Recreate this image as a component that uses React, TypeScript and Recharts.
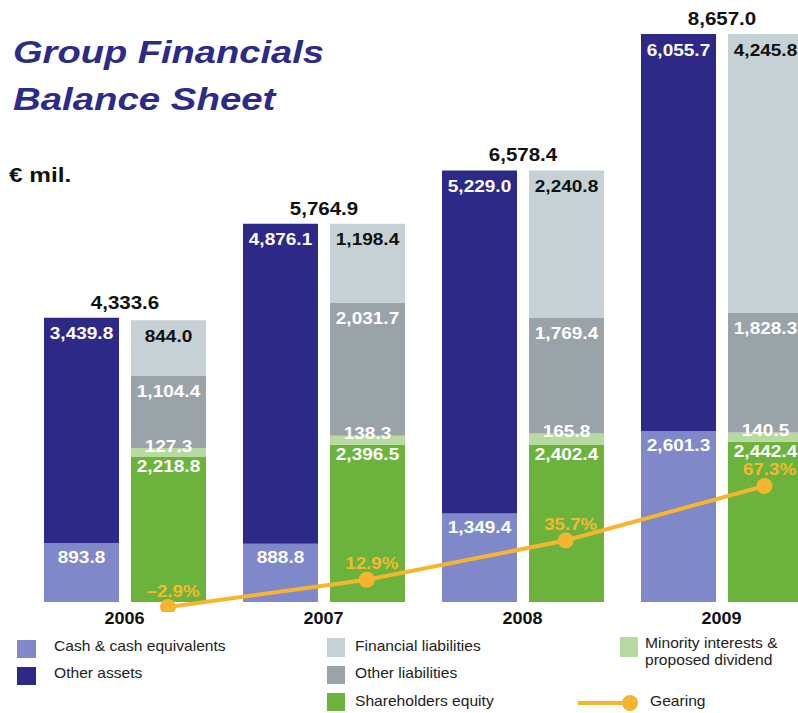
import { ComposedChart, Bar, Line, XAxis, YAxis, LabelList } from 'recharts';

// values in € mil.
const YEARS = ['2006', '2007', '2008', '2009'];
const CASH = [893.8, 888.8, 1349.4, 2601.3];
const OTHER_ASSETS = [3439.8, 4876.1, 5229.0, 6055.7];
const EQUITY = [2218.8, 2396.5, 2402.4, 2442.4];
const MINORITY = [127.3, 138.3, 165.8, 140.5];
const OTHER_LIAB = [1104.4, 2031.7, 1769.4, 1828.3];
const FIN_LIAB = [844.0, 1198.4, 2240.8, 4245.8];
const TOTALS = [4333.6, 5764.9, 6578.4, 8657.0];
const GEARING = [-2.9, 12.9, 35.7, 67.3];

const COLORS = {
  cash: '#7f88c9',
  otherAssets: '#2d2a87',
  finLiab: '#c6d1d6',
  otherLiab: '#9aa3a8',
  equity: '#6cb33e',
  minority: '#b8d9a0',
  gearing: '#f6b52e',
  title: '#2c2b88',
};

const FONT = '"Liberation Sans", Arial, sans-serif';

const data = YEARS.map((year, i) => ({
  year,
  cash: CASH[i],
  otherAssets: OTHER_ASSETS[i],
  equity: EQUITY[i],
  minority: MINORITY[i],
  otherLiab: OTHER_LIAB[i],
  finLiab: FIN_LIAB[i],
  total: TOTALS[i],
  gearing: GEARING[i],
}));

const fmt = (v: number) =>
  v.toLocaleString('en-US', { minimumFractionDigits: 1, maximumFractionDigits: 1 });

const fmtPct = (v: number) => (v < 0 ? '–' : '') + Math.abs(v).toFixed(1) + '%';

// the reference type is a little wider than the font, so text is stretched sideways
function SText({ x, y, children, size = 17, fill = '#fff', sx = 1.12, weight = 'bold', anchor = 'middle', italic = false, baseline = 'central' }: any) {
  return (
    <text
      transform={`translate(${x},${y}) scale(${sx},1)`}
      textAnchor={anchor}
      dominantBaseline={baseline}
      fontSize={size}
      fontWeight={weight}
      fontStyle={italic ? 'italic' : 'normal'}
      fill={fill}
      fontFamily={FONT}
    >
      {children}
    </text>
  );
}

// label inside a bar segment, a fixed distance below its top edge
const insideTop = (offset: number, fill = '#fff') => (p: any) => {
  if (p.value == null) return null;
  return (
    <SText x={p.x + p.width / 2} y={p.y + offset} fill={fill}>
      {fmt(Number(p.value))}
    </SText>
  );
};

const onTopEdge = (p: any) => (
  <SText x={p.x + p.width / 2} y={p.y - 2}>
    {fmt(Number(p.value))}
  </SText>
);

// total sits centred over the pair of bars
const totalLabel = (p: any) => (
  <SText x={p.x + p.width + 6} y={p.y - 15} fill="#111" size={18} sx={1.14}>
    {fmt(Number(p.value))}
  </SText>
);

const gearingLabel = (p: any) => (
  <SText x={p.x + 5} y={p.y - 16} fill="#f4b92e" size={16} sx={1.17}>
    {fmtPct(Number(p.value))}
  </SText>
);

function YearTick({ x, y, payload }: any) {
  return (
    <SText x={x} y={y + 12} fill="#111" size={17} sx={1.06} baseline="auto">
      {payload.value}
    </SText>
  );
}

function Overlay() {
  const item = (x: number, y: number, label: string) => (
    <SText x={x} y={y} fill="#222" size={15} sx={1.04} weight="normal" anchor="start" baseline="auto">
      {label}
    </SText>
  );
  return (
    <svg width={798} height={713} style={{ position: 'absolute', left: 0, top: 0, pointerEvents: 'none' }}>
      <SText x={13} y={63} size={32} sx={1.19} fill={COLORS.title} anchor="start" italic baseline="auto">
        Group Financials
      </SText>
      <SText x={13} y={109.5} size={32} sx={1.2} fill={COLORS.title} anchor="start" italic baseline="auto">
        Balance Sheet
      </SText>
      <SText x={9} y={182} size={21} sx={1.16} fill="#111" anchor="start" baseline="auto">
        € mil.
      </SText>

      <rect x={17} y={640} width={19} height={18} fill={COLORS.cash} />
      {item(54, 651, 'Cash & cash equivalents')}
      <rect x={17} y={667} width={19} height={18} fill={COLORS.otherAssets} />
      {item(54, 678, 'Other assets')}

      <rect x={327} y={638} width={18} height={19} fill={COLORS.finLiab} />
      {item(355, 651, 'Financial liabilities')}
      <rect x={327} y={666} width={18} height={18} fill={COLORS.otherLiab} />
      {item(355, 678, 'Other liabilities')}
      <rect x={327} y={693} width={18} height={18} fill={COLORS.equity} />
      {item(355, 706, 'Shareholders equity')}

      <rect x={620} y={637} width={18} height={20} fill={COLORS.minority} />
      {item(645, 648, 'Minority interests &')}
      {item(645, 665, 'proposed dividend')}
      <line x1={578} y1={703} x2={630} y2={703} stroke={COLORS.gearing} strokeWidth={4} />
      <circle cx={630} cy={703} r={8} fill={COLORS.gearing} />
      {item(650, 706, 'Gearing')}
    </svg>
  );
}

export default function App() {
  return (
    <div style={{ position: 'absolute', left: 0, top: 0, width: 798, height: 713, overflow: 'hidden', background: '#fff' }}>
      <ComposedChart
        width={830}
        height={713}
        data={data}
        margin={{ top: 20, right: 9, bottom: 0, left: 25 }}
        barSize={75}
        barGap={12}
      >
        <XAxis xAxisId="bars" dataKey="year" axisLine={false} tickLine={false} tickSize={0} tickMargin={0}
          height={101} interval={0} tick={<YearTick />} />
        <XAxis xAxisId="line" dataKey="year" hide scale="point" padding={{ left: 143, right: 56.5 }} />
        <YAxis yAxisId="val" type="number" hide domain={[-152.4, 8870.6]} allowDataOverflow />
        <YAxis yAxisId="gear" type="number" hide orientation="right" domain={[-5.8, 337.6]} allowDataOverflow />

        <Bar xAxisId="bars" yAxisId="val" stackId="assets" dataKey="cash" fill={COLORS.cash} isAnimationActive={false}>
          <LabelList dataKey="cash" content={insideTop(14)} />
        </Bar>
        <Bar xAxisId="bars" yAxisId="val" stackId="assets" dataKey="otherAssets" fill={COLORS.otherAssets} isAnimationActive={false}>
          <LabelList dataKey="otherAssets" content={insideTop(16)} />
          <LabelList dataKey="total" content={totalLabel} />
        </Bar>

        <Bar xAxisId="bars" yAxisId="val" stackId="liab" dataKey="equity" fill={COLORS.equity} isAnimationActive={false}>
          <LabelList dataKey="equity" content={insideTop(10)} />
        </Bar>
        <Bar xAxisId="bars" yAxisId="val" stackId="liab" dataKey="minority" fill={COLORS.minority} isAnimationActive={false}>
          <LabelList dataKey="minority" content={onTopEdge} />
        </Bar>
        <Bar xAxisId="bars" yAxisId="val" stackId="liab" dataKey="otherLiab" fill={COLORS.otherLiab} isAnimationActive={false}>
          <LabelList dataKey="otherLiab" content={insideTop(16)} />
        </Bar>
        <Bar xAxisId="bars" yAxisId="val" stackId="liab" dataKey="finLiab" fill={COLORS.finLiab} isAnimationActive={false}>
          <LabelList dataKey="finLiab" content={insideTop(16, '#111')} />
        </Bar>

        <Line xAxisId="line" yAxisId="gear" dataKey="gearing" stroke={COLORS.gearing} strokeWidth={4}
          dot={{ r: 8, fill: COLORS.gearing, stroke: 'none' }} activeDot={false} isAnimationActive={false}>
          <LabelList dataKey="gearing" content={gearingLabel} />
        </Line>
      </ComposedChart>
      <Overlay />
    </div>
  );
}
